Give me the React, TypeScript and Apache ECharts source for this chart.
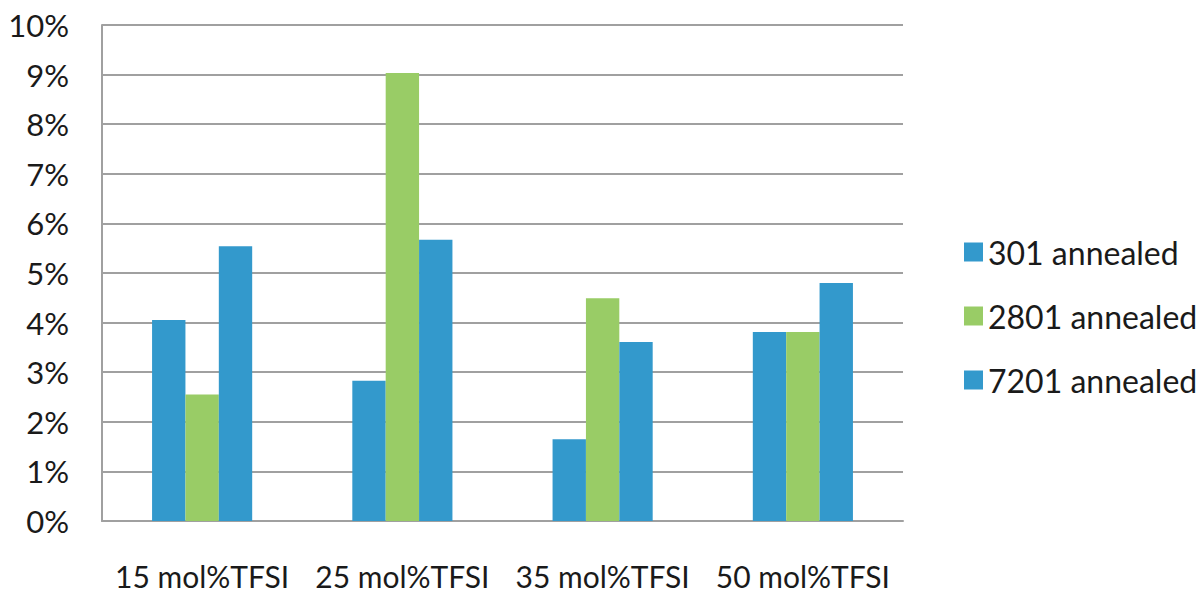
import React, { useEffect, useRef } from "react";
import * as echarts from "echarts";

const categories = ["15 mol%TFSI", "25 mol%TFSI", "35 mol%TFSI", "50 mol%TFSI"];
const seriesNames = ["301 annealed", "2801 annealed", "7201 annealed"];
const s301 = [4.05, 2.83, 1.65, 3.81];
const s2801 = [2.55, 9.03, 4.49, 3.81];
const s7201 = [5.54, 5.67, 3.61, 4.8];
const colors = ["#3399CC", "#99CC66", "#3399CC"];

export default function App() {
  const ref = useRef<HTMLDivElement>(null);
  useEffect(() => {
    const chart = echarts.init(ref.current!, null, { renderer: "svg" });
    const data = [s301, s2801, s7201];
    chart.setOption({
      animation: false,
      backgroundColor: "#ffffff",
      textStyle: { fontFamily: "Lato" },
      grid: { left: 102, right: 297, top: 25, bottom: 69 },
      legend: {
        orient: "vertical",
        left: 959,
        top: 231,
        itemWidth: 19,
        itemHeight: 19,
        itemGap: 32,
        icon: "rect",
        textStyle: { fontFamily: "Lato", fontSize: 32, lineHeight: 32, color: "#1a1a1a" },
        data: seriesNames,
      },
      xAxis: {
        type: "category",
        data: categories,
        axisLine: { lineStyle: { color: "#A0A0A0", width: 2 } },
        axisTick: { show: false },
        axisLabel: {
          interval: 0,
          hideOverlap: false,
          overflow: "none",
          fontFamily: "Lato",
          fontSize: 30,
          lineHeight: 24,
          color: "#1a1a1a",
          margin: 43,
        },
      },
      yAxis: {
        type: "value",
        min: 0,
        max: 10,
        interval: 1,
        axisLine: { show: true, lineStyle: { color: "#A0A0A0", width: 2 } },
        axisTick: { show: false },
        splitLine: { lineStyle: { color: "#A0A0A0", width: 2 } },
        axisLabel: {
          fontFamily: "Lato",
          fontSize: 31,
          color: "#1a1a1a",
          margin: 33,
          formatter: (v: number) => v + "%",
        },
      },
      series: seriesNames.map((name, i) => ({
        name,
        type: "bar",
        data: data[i],
        barGap: "0%",
        barCategoryGap: "50%",
        itemStyle: { color: colors[i] },
      })),
    });
    return () => chart.dispose();
  }, []);
  return (
    <div
      ref={ref}
      style={{ position: "fixed", left: 0, top: 0, width: 1200, height: 591 }}
    />
  );
}
